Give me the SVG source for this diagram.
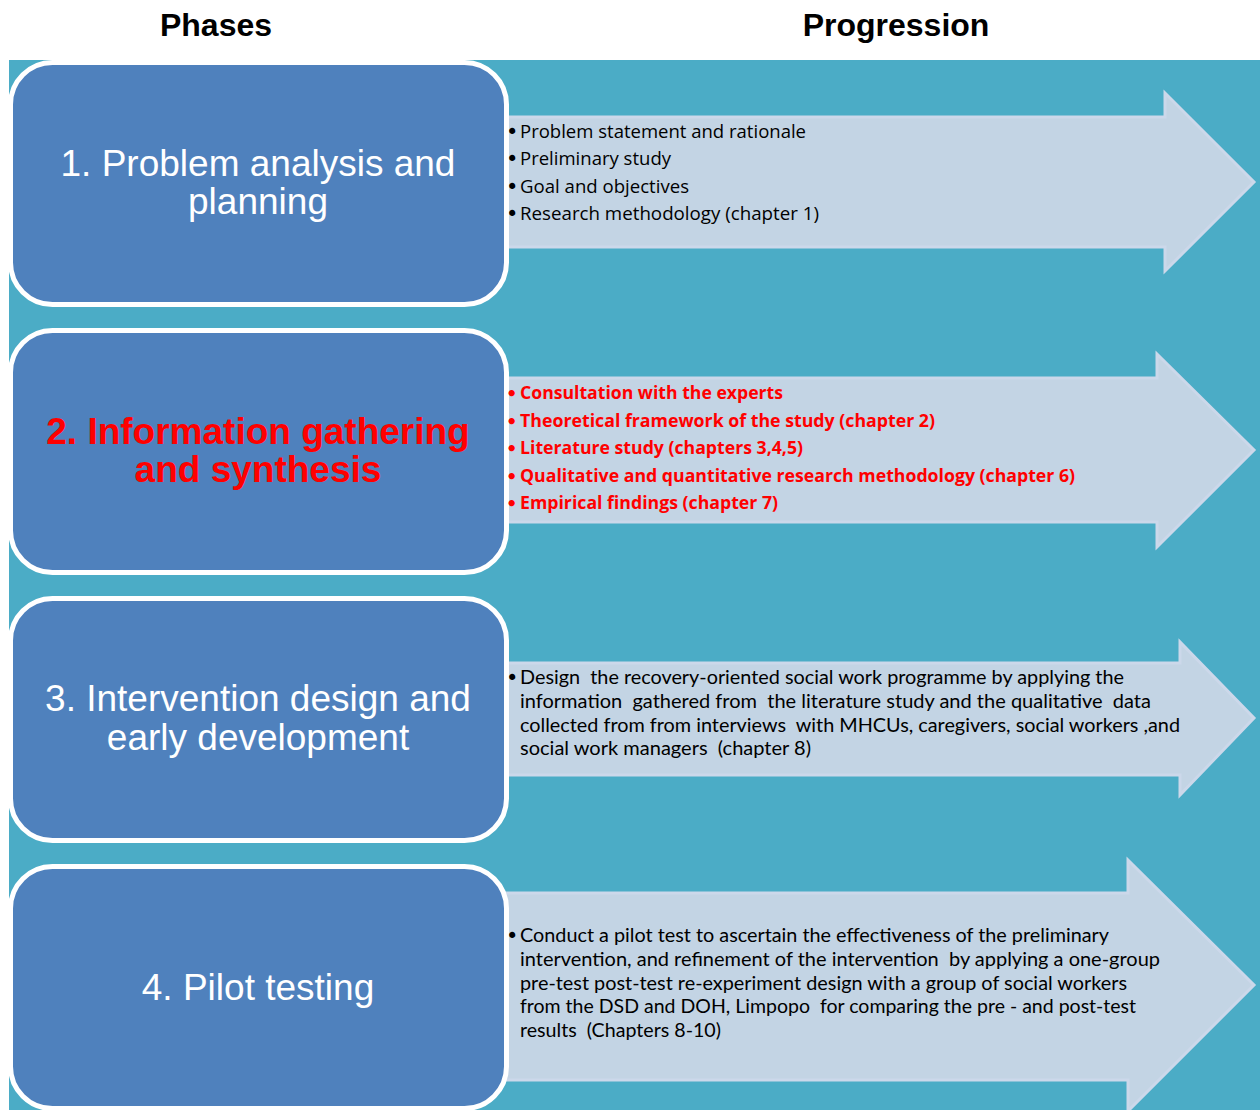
<svg xmlns="http://www.w3.org/2000/svg" width="1260" height="1110" viewBox="0 0 1260 1110">
  <style>
    .hdr { font-family: "Liberation Sans", Arial, sans-serif; font-weight: bold; font-size: 32px; fill: #000; text-anchor: middle; }
    .phase { fill: #4F81BD; stroke: #FFFFFF; stroke-width: 5; }
    .ptxt { font-family: "Liberation Sans", Arial, sans-serif; font-size: 37px; fill: #FFFFFF; text-anchor: middle; }
    .ptxt.hot { fill: #FF0000; font-weight: bold; }
    .arrow { fill: #C3D4E4; stroke: #CCD8EA; stroke-width: 3; stroke-linejoin: miter; }
    .item { font-family: "Open Sans", "Noto Sans", sans-serif; font-size: 18.5px; fill: #000; white-space: pre; }
    .item.hot { fill: #FF0000; font-weight: bold; font-size: 17.8px; }
    .item.cond { font-family: "Lato", "Liberation Sans", sans-serif; font-size: 19.5px; }
    .bul { font-family: "DejaVu Sans", sans-serif; font-size: 21px; }
  </style>

  <rect x="0" y="0" width="1260" height="1110" fill="#FFFFFF"/>
  <rect x="9" y="60" width="1251" height="1050" fill="#4BACC6"/>

  <text class="hdr" x="216" y="36">Phases</text>
  <text class="hdr" x="896" y="36">Progression</text>

  <!-- progression arrows (drawn beneath the phase boxes) -->
  <g id="connectors">
    <polygon class="arrow" points="500,117 1165,117 1165,93 1254,182 1165,271 1165,247 500,247"/>
    <polygon class="arrow" points="500,378 1157,378 1157,354 1254,450 1157,547 1157,522 500,522"/>
    <polygon class="arrow" points="500,663 1180,663 1180,642 1254,718 1180,795 1180,775 500,775"/>
    <polygon class="arrow" points="500,893 1128,893 1128,860 1254,985 1128,1111 1128,1080 500,1080"/>
  </g>

  <g id="phase1">
    <rect class="phase" x="10.5" y="62.5" width="496" height="242" rx="42"/>
    <text class="ptxt" x="258" y="176">1. Problem analysis and</text>
    <text class="ptxt" x="258" y="214">planning</text>
  </g>
  <g id="phase2">
    <rect class="phase" x="10.5" y="330.5" width="496" height="242" rx="42"/>
    <text class="ptxt hot" x="258" y="444">2. Information gathering</text>
    <text class="ptxt hot" x="258" y="482">and synthesis</text>
  </g>
  <g id="phase3">
    <rect class="phase" x="10.5" y="598.5" width="496" height="242" rx="42"/>
    <text class="ptxt" x="258" y="711">3. Intervention design and</text>
    <text class="ptxt" x="258" y="750">early development</text>
  </g>
  <g id="phase4">
    <rect class="phase" x="10.5" y="866.5" width="496" height="242" rx="42"/>
    <text class="ptxt" x="258" y="1000">4. Pilot testing</text>
  </g>

  <g id="progress1">
    <text class="item bul" x="506" y="139">•</text>
    <text class="item" x="520" y="138" textLength="286" lengthAdjust="spacingAndGlyphs">Problem statement and rationale</text>
    <text class="item bul" x="506" y="166">•</text>
    <text class="item" x="520" y="165" textLength="151" lengthAdjust="spacingAndGlyphs">Preliminary study</text>
    <text class="item bul" x="506" y="194">•</text>
    <text class="item" x="520" y="193" textLength="169" lengthAdjust="spacingAndGlyphs">Goal and objectives</text>
    <text class="item bul" x="506" y="221">•</text>
    <text class="item" x="520" y="220" textLength="299" lengthAdjust="spacingAndGlyphs">Research methodology (chapter 1)</text>
  </g>
  <g id="progress2">
    <text class="item hot bul" x="506" y="400">•</text>
    <text class="item hot" x="520" y="399" textLength="263" lengthAdjust="spacingAndGlyphs">Consultation with the experts</text>
    <text class="item hot bul" x="506" y="428">•</text>
    <text class="item hot" x="520" y="427" textLength="415" lengthAdjust="spacingAndGlyphs">Theoretical framework of the study (chapter 2)</text>
    <text class="item hot bul" x="506" y="455">•</text>
    <text class="item hot" x="520" y="454" textLength="283" lengthAdjust="spacingAndGlyphs">Literature study (chapters 3,4,5)</text>
    <text class="item hot bul" x="506" y="483">•</text>
    <text class="item hot" x="520" y="482" textLength="555" lengthAdjust="spacingAndGlyphs">Qualitative and quantitative research methodology (chapter 6)</text>
    <text class="item hot bul" x="506" y="510">•</text>
    <text class="item hot" x="520" y="509" textLength="258" lengthAdjust="spacingAndGlyphs">Empirical findings (chapter 7)</text>
  </g>
  <g id="progress3">
    <text class="item bul" x="506" y="685">•</text>
    <text class="item cond" x="520" y="684" textLength="604" lengthAdjust="spacingAndGlyphs">Design  the recovery-oriented social work programme by applying the</text>
    <text class="item cond" x="520" y="708" textLength="631" lengthAdjust="spacingAndGlyphs">information  gathered from  the literature study and the qualitative  data</text>
    <text class="item cond" x="520" y="732" textLength="660" lengthAdjust="spacingAndGlyphs">collected from from interviews  with MHCUs, caregivers, social workers ,and</text>
    <text class="item cond" x="520" y="755" textLength="291" lengthAdjust="spacingAndGlyphs">social work managers  (chapter 8)</text>
  </g>
  <g id="progress4">
    <text class="item bul" x="506" y="943">•</text>
    <text class="item cond" x="520" y="942" textLength="589" lengthAdjust="spacingAndGlyphs">Conduct a pilot test to ascertain the effectiveness of the preliminary</text>
    <text class="item cond" x="520" y="966" textLength="640" lengthAdjust="spacingAndGlyphs">intervention, and refinement of the intervention  by applying a one-group</text>
    <text class="item cond" x="520" y="990" textLength="607" lengthAdjust="spacingAndGlyphs">pre-test post-test re-experiment design with a group of social workers</text>
    <text class="item cond" x="520" y="1013" textLength="616" lengthAdjust="spacingAndGlyphs">from the DSD and DOH, Limpopo  for comparing the pre - and post-test</text>
    <text class="item cond" x="520" y="1037" textLength="201" lengthAdjust="spacingAndGlyphs">results  (Chapters 8-10)</text>
  </g>
</svg>
